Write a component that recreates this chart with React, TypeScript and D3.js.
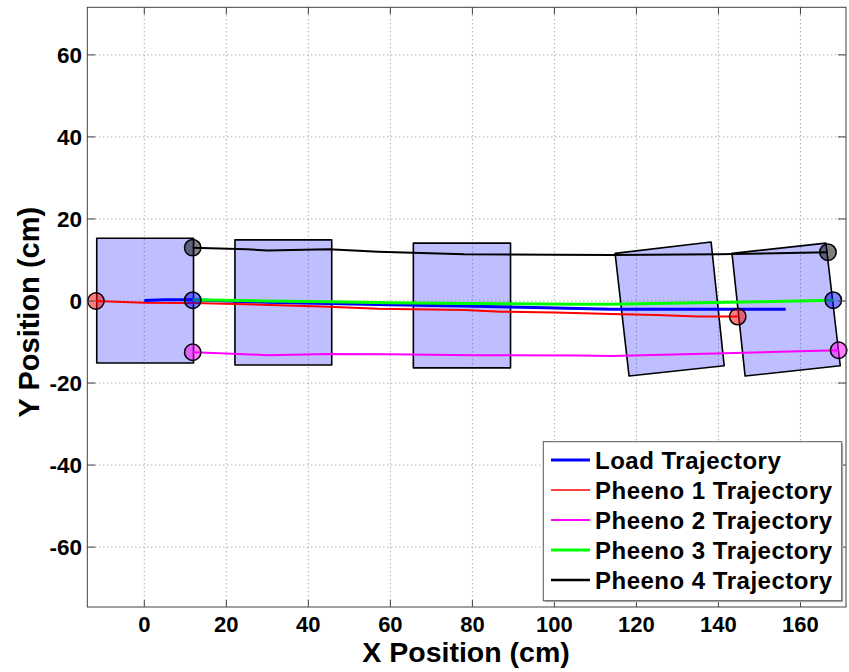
import React from "react";
import * as d3 from "d3";

const W = 849;
const H = 672;

const xTicks = [0, 20, 40, 60, 80, 100, 120, 140, 160];
const yTicks = [-60, -40, -20, 0, 20, 40, 60];

// Trajectories
const loadX = [0, 5, 11.8, 20, 30, 45, 60, 78, 95, 114, 130, 145, 156.4];
const loadY = [0.1, 0.3, 0.3, 0, -0.3, -0.6, -0.9, -1.2, -1.6, -2.0, -2.0, -2.0, -2.0];
const p1X = [-11.8, 0, 11.8, 25, 45, 57, 78, 87, 100, 114, 125, 135, 144.7];
const p1Y = [0, -0.4, -0.5, -0.8, -1.4, -1.9, -2.2, -2.6, -2.8, -3.2, -3.4, -3.8, -3.8];
const p2X = [11.8, 20, 30, 45, 60, 80, 106, 114, 139, 155, 169.3];
const p2Y = [-12.5, -12.8, -13.2, -12.9, -13, -13.2, -13.3, -13.4, -12.8, -12.4, -12];
const p3X = [11.8, 30, 45, 60, 78, 106, 114, 135, 150, 168];
const p3Y = [0.3, 0, -0.2, -0.4, -0.6, -0.8, -0.8, -0.4, -0.2, 0.2];
const p4X = [11.8, 25, 30, 45, 57, 78, 100, 114, 140, 166.7];
const p4Y = [13, 12.6, 12.3, 12.6, 12, 11.4, 11.3, 11.2, 11.4, 11.9];

// Load footprints (corner lists)
const rect1 = [[-11.6, 15.3], [12, 15.3], [12, -15.1], [-11.6, -15.1]];
const rect2 = [[22.1, 14.9], [45.7, 14.9], [45.7, -15.6], [22.1, -15.6]];
const rect3 = [[65.6, 14.1], [89.3, 14.1], [89.3, -16.3], [65.6, -16.3]];
const rect4 = [[114.8, 11.6], [138.2, 14.4], [141.4, -15.8], [118.2, -18.3]];
const rect5 = [[143.3, 11.6], [166.2, 14.1], [169.7, -15.8], [146.5, -18.3]];

// Robot markers
const markerX = [-11.8, 11.8, 11.8, 11.8, 144.7, 168, 169.3, 166.7];
const markerY = [0, 13, 0.2, -12.5, -3.8, 0.2, -12, 11.9];
const markerColor = ["#ff0000", "#000000", "#0000ff", "#ff00ff", "#ff0000", "#0000ff", "#ff00ff", "#000000"];

const seriesNames = ["Load Trajectory", "Pheeno 1 Trajectory", "Pheeno 2 Trajectory", "Pheeno 3 Trajectory", "Pheeno 4 Trajectory"];
const seriesColors = ["#0000ff", "#ff0000", "#ff00ff", "#00ff00", "#000000"];
const seriesWidths = [3, 2, 2, 3, 2];
const legendWidths = [3, 1.5, 2, 3, 2.5];

const FONT = "'Liberation Sans', Arial, Helvetica, sans-serif";

export default function App() {
  const left = 87.3, right = 846, top = 7.3, bottom = 607;
  const x = d3.scaleLinear().domain([-13.9, 171.1]).range([left, right]);
  const y = d3.scaleLinear().domain([-74.6, 71.6]).range([bottom, top]);

  const line = d3
    .line<[number, number]>()
    .x((d) => x(d[0]))
    .y((d) => y(d[1]));

  const zip = (a: number[], b: number[]) => a.map((v, i) => [v, b[i]] as [number, number]);
  const series = [zip(loadX, loadY), zip(p1X, p1Y), zip(p2X, p2Y), zip(p3X, p3Y), zip(p4X, p4Y)];
  const rects = [rect1, rect2, rect3, rect4, rect5];

  const axisColor = "#404040";
  const gridColor = "#8c8c8c";

  const lg = { x0: 543.3, y0: 441.7, x1: 841.7, y1: 600.7 };
  const rowY = (i: number) => 460 + i * 30;

  return (
    <svg
      width={W}
      height={H}
      style={{ position: "absolute", left: 0, top: 0, background: "#fff" }}
      fontFamily={FONT}
    >
      <rect x={0} y={0} width={W} height={H} fill="#fff" />
      {/* grid */}
      {xTicks.map((t) => (
        <line key={"gx" + t} x1={x(t)} x2={x(t)} y1={top} y2={bottom} stroke={gridColor} strokeWidth={1} strokeDasharray="1,3" />
      ))}
      {yTicks.map((t) => (
        <line key={"gy" + t} x1={left} x2={right} y1={y(t)} y2={y(t)} stroke={gridColor} strokeWidth={1} strokeDasharray="1,3" />
      ))}

      {/* footprints */}
      {rects.map((r, i) => (
        <polygon
          key={"r" + i}
          points={r.map((p) => `${x(p[0])},${y(p[1])}`).join(" ")}
          fill="#0000ff"
          fillOpacity={0.25}
          stroke="#000"
          strokeWidth={1.6}
          strokeLinejoin="round"
        />
      ))}

      {/* trajectories */}
      {series.map((s, i) => (
        <path key={"s" + i} d={line(s) || ""} fill="none" stroke={seriesColors[i]} strokeWidth={seriesWidths[i]} strokeLinejoin="round" />
      ))}

      {/* markers */}
      {markerX.map((mx, i) => (
        <circle key={"m" + i} cx={x(mx)} cy={y(markerY[i])} r={8.2} fill={markerColor[i]} fillOpacity={0.5} stroke="#000" strokeWidth={1.5} />
      ))}

      {/* axes box */}
      <rect x={left} y={top} width={right - left} height={bottom - top} fill="none" stroke={axisColor} strokeWidth={1} />
      {xTicks.map((t) => (
        <g key={"tx" + t}>
          <line x1={x(t)} x2={x(t)} y1={bottom} y2={bottom - 7} stroke={axisColor} />
          <line x1={x(t)} x2={x(t)} y1={top} y2={top + 7} stroke={axisColor} />
          <text x={x(t)} y={632} textAnchor="middle" fontSize={22} fontWeight="bold" fill="#000">
            {t}
          </text>
        </g>
      ))}
      {yTicks.map((t) => (
        <g key={"ty" + t}>
          <line x1={left} x2={left + 8} y1={y(t)} y2={y(t)} stroke={axisColor} />
          <line x1={right} x2={right - 8} y1={y(t)} y2={y(t)} stroke={axisColor} />
          <text x={82} y={y(t) + 8} textAnchor="end" fontSize={22.5} fontWeight="bold" fill="#000">
            {t}
          </text>
        </g>
      ))}

      {/* axis labels */}
      <text x={466} y={662} textAnchor="middle" fontSize={28.5} fontWeight="bold" fill="#000">
        X Position (cm)
      </text>
      <text transform={`translate(39,${(top + bottom) / 2 + 5}) rotate(-90)`} textAnchor="middle" fontSize={29} fontWeight="bold" fill="#000">
        Y Position (cm)
      </text>

      {/* legend */}
      <rect x={lg.x0 + 1.5} y={lg.y0 + 1.5} width={lg.x1 - lg.x0} height={lg.y1 - lg.y0} fill="#bbb" />
      <rect x={lg.x0} y={lg.y0} width={lg.x1 - lg.x0} height={lg.y1 - lg.y0} fill="#fff" stroke="#555" strokeWidth={1} />
      {seriesNames.map((n, i) => (
        <g key={"l" + i}>
          <line x1={551} x2={590} y1={rowY(i)} y2={rowY(i)} stroke={seriesColors[i]} strokeWidth={legendWidths[i]} />
          <text x={595} y={rowY(i) + 8.5} fontSize={24} fontWeight="bold" letterSpacing={0.5} fill="#000">
            {n}
          </text>
        </g>
      ))}
    </svg>
  );
}
